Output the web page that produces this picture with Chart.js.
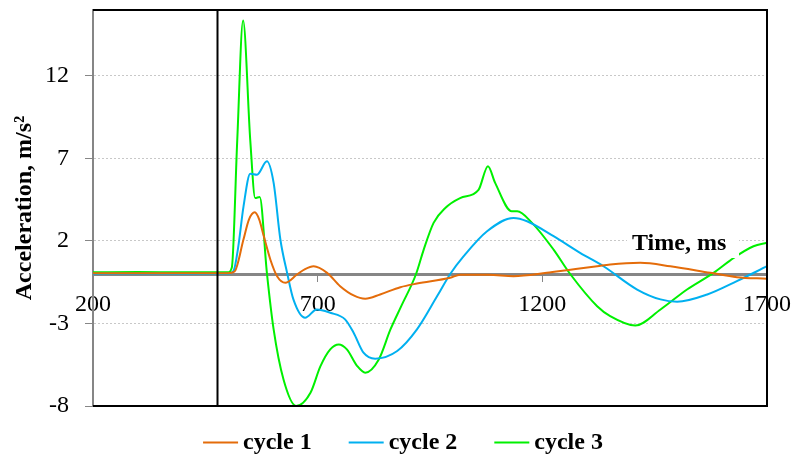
<!DOCTYPE html>
<html lang="en">
<head>
    <meta charset="UTF-8">
    <title>Acceleration cycles</title>
    <style>
        html, body { margin: 0; padding: 0; background: #fff; }
        #wrap { width: 794px; height: 456px; }
    </style>
</head>
<body>
    <div id="wrap">
        <canvas id="myChart" width="794" height="456"></canvas>
    </div>

    <script src="https://cdn.jsdelivr.net/npm/chart.js"></script>
    <script>
        // values (time in ms, acceleration in m/s2)
        const TIME_1 = [200, 300, 400, 500, 515, 535, 547, 560, 570, 580, 595, 610, 628, 654, 672, 691, 721, 750, 780, 806, 839, 884, 921, 995, 1017, 1080, 1136, 1210, 1255, 1322, 1351, 1418, 1485, 1574, 1633, 1700];
        const ACC_1 = [0.05, 0.05, 0.05, 0.05, 0.15, 2.1, 3.3, 3.74, 3.3, 2.3, 0.85, -0.15, -0.53, -0.03, 0.3, 0.47, 0.07, -0.74, -1.3, -1.5, -1.24, -0.8, -0.58, -0.23, -0.05, -0.05, -0.13, 0.07, 0.23, 0.47, 0.58, 0.68, 0.47, 0.07, -0.19, -0.29];

        const TIME_2 = [200, 300, 400, 500, 513, 523, 535, 550, 565, 587, 602, 617, 632, 646, 672, 698, 728, 761, 780, 802, 828, 877, 921, 966, 995, 1025, 1077, 1136, 1166, 1225, 1284, 1336, 1411, 1463, 1500, 1567, 1633, 1700];
        const ACC_2 = [0.0, 0.02, 0.0, 0.02, 0.2, 1.6, 4.1, 6.08, 6.02, 6.83, 5.52, 2.09, 0.07, -1.54, -2.65, -2.15, -2.35, -2.75, -3.56, -4.77, -5.13, -4.67, -3.36, -1.34, 0.0, 1.08, 2.59, 3.4, 3.2, 2.29, 1.28, 0.47, -0.94, -1.54, -1.68, -1.24, -0.43, 0.47];

        const TIME_3 = [200, 300, 400, 500, 509, 521, 534, 550, 561, 571, 587, 602, 624, 652, 684, 706, 728, 747, 765, 788, 806, 836, 862, 886, 919, 936, 958, 984, 1017, 1058, 1079, 1095, 1132, 1144, 1177, 1225, 1262, 1322, 1351, 1407, 1463, 1522, 1581, 1626, 1670, 1700];
        const ACC_3 = [0.1, 0.12, 0.1, 0.1, 0.4, 8.1, 15.36, 8.1, 4.6, 4.67, 0.07, -3.36, -6.4, -8.0, -7.2, -5.6, -4.57, -4.27, -4.57, -5.58, -5.98, -5.18, -3.36, -1.95, 0.0, 1.48, 3.1, 4.0, 4.6, 5.1, 6.53, 5.52, 3.8, 3.8, 3.1, 1.48, 0.0, -1.95, -2.55, -3.12, -2.15, -0.94, 0.07, 0.98, 1.68, 1.9];

        const SERIES_NAMES = ['cycle 1', 'cycle 2', 'cycle 3'];
        const SERIES_COLORS = ['#E46C0A', '#00B0F0', '#00F000'];
        const TICKS_X = [200, 700, 1200, 1700];
        const TICKS_Y = [-8, -3, 2, 7, 12];
        const MARK_TIME = 475; // the black vertical line

        const FONT = "'Liberation Serif', 'Times New Roman', serif";
        Chart.defaults.font.family = FONT;
        Chart.defaults.color = '#000';

        const toPoints = (xs, ys) => xs.map((x, i) => ({ x: x, y: ys[i] }));
        const allData = [toPoints(TIME_1, ACC_1), toPoints(TIME_2, ACC_2), toPoints(TIME_3, ACC_3)];

        // frame, vertical line, "Time, ms" label and the legend
        const extras = {
            id: 'extras',
            afterDatasetsDraw(chart) {
                const { ctx, chartArea: a, scales } = chart;
                ctx.save();

                // black vertical line
                const vx = Math.round(scales.x.getPixelForValue(MARK_TIME)) + 0.5;
                ctx.strokeStyle = '#000';
                ctx.lineWidth = 2;
                ctx.beginPath();
                ctx.moveTo(vx, a.top);
                ctx.lineTo(vx, a.bottom);
                ctx.stroke();

                // top, right, bottom border
                ctx.beginPath();
                ctx.moveTo(a.left, a.top);
                ctx.lineTo(a.right, a.top);
                ctx.lineTo(a.right, a.bottom);
                ctx.lineTo(a.left, a.bottom);
                ctx.stroke();

                // x axis title with white box
                ctx.fillStyle = '#fff';
                ctx.fillRect(a.right - 140, 226, 112, 32);
                ctx.fillStyle = '#000';
                ctx.font = 'bold 24px ' + FONT;
                ctx.textAlign = 'left';
                ctx.textBaseline = 'alphabetic';
                ctx.fillText('Time, ms', a.right - 135, 250);
                ctx.restore();
            },
            afterDraw(chart) {
                const ctx = chart.ctx;
                ctx.save();
                ctx.font = 'bold 24px ' + FONT;
                const lineW = 35, gap = 5, space = 37;
                const widths = SERIES_NAMES.map(n => ctx.measureText(n).width);
                let total = 0;
                widths.forEach((w, i) => { total += lineW + gap + w + (i < widths.length - 1 ? space : 0); });
                let x = chart.width / 2 + 6 - total / 2;
                chart.data.datasets.forEach((ds, i) => {
                    ctx.strokeStyle = ds.borderColor;
                    ctx.lineWidth = 2;
                    ctx.beginPath();
                    ctx.moveTo(x, 442.5);
                    ctx.lineTo(x + lineW, 442.5);
                    ctx.stroke();
                    ctx.fillStyle = '#000';
                    ctx.textBaseline = 'alphabetic';
                    ctx.fillText(ds.label, x + lineW + gap, 449);
                    x += lineW + gap + widths[i] + space;
                });
                ctx.restore();
            }
        };

        new Chart(document.getElementById('myChart'), {
            type: 'line',
            data: {
                datasets: SERIES_NAMES.map((name, i) => ({
                    label: name,
                    data: allData[i],
                    borderColor: SERIES_COLORS[i],
                    backgroundColor: SERIES_COLORS[i],
                    borderWidth: 2,
                    pointRadius: 0,
                    cubicInterpolationMode: 'monotone',
                    fill: false
                }))
            },
            options: {
                responsive: false,
                animation: false,
                layout: { padding: { top: 10, right: 27, bottom: 50, left: 0 } },
                plugins: {
                    legend: { display: false },
                    tooltip: { enabled: false }
                },
                scales: {
                    x: {
                        type: 'linear',
                        min: 200,
                        max: 1700,
                        position: { y: 0 },
                        afterBuildTicks: s => { s.ticks = TICKS_X.map(v => ({ value: v })); },
                        afterFit: s => { s.height = 0; s.paddingLeft = 0; s.paddingRight = 0; },
                        grid: { drawOnChartArea: false, tickLength: 6, tickColor: '#868686' },
                        border: { color: '#868686', width: 3 },
                        ticks: {
                            font: { size: 24 },
                            padding: 10,
                            maxRotation: 0,
                            autoSkip: false,
                            callback: v => String(v)
                        }
                    },
                    y: {
                        type: 'linear',
                        min: -8,
                        max: 16,
                        afterBuildTicks: s => { s.ticks = TICKS_Y.map(v => ({ value: v })); },
                        afterFit: s => { s.width = 93; s.paddingTop = 0; s.paddingBottom = 0; },
                        grid: {
                            color: ctx => ctx.tick && ctx.tick.value === -8 ? 'rgba(0,0,0,0)' : '#c8c8c8',
                            lineWidth: 1,
                            tickLength: 8,
                            tickColor: '#868686'
                        },
                        border: { color: '#868686', width: 2, dash: [2, 2] },
                        ticks: { font: { size: 24 }, padding: 16, callback: v => String(v) },
                        title: {
                            display: true,
                            text: 'Acceleration, m/s²',
                            font: { size: 24, weight: 'bold' },
                            padding: { top: 10, bottom: 0 }
                        }
                    }
                }
            },
            plugins: [extras]
        });
    </script>
</body>
</html>
